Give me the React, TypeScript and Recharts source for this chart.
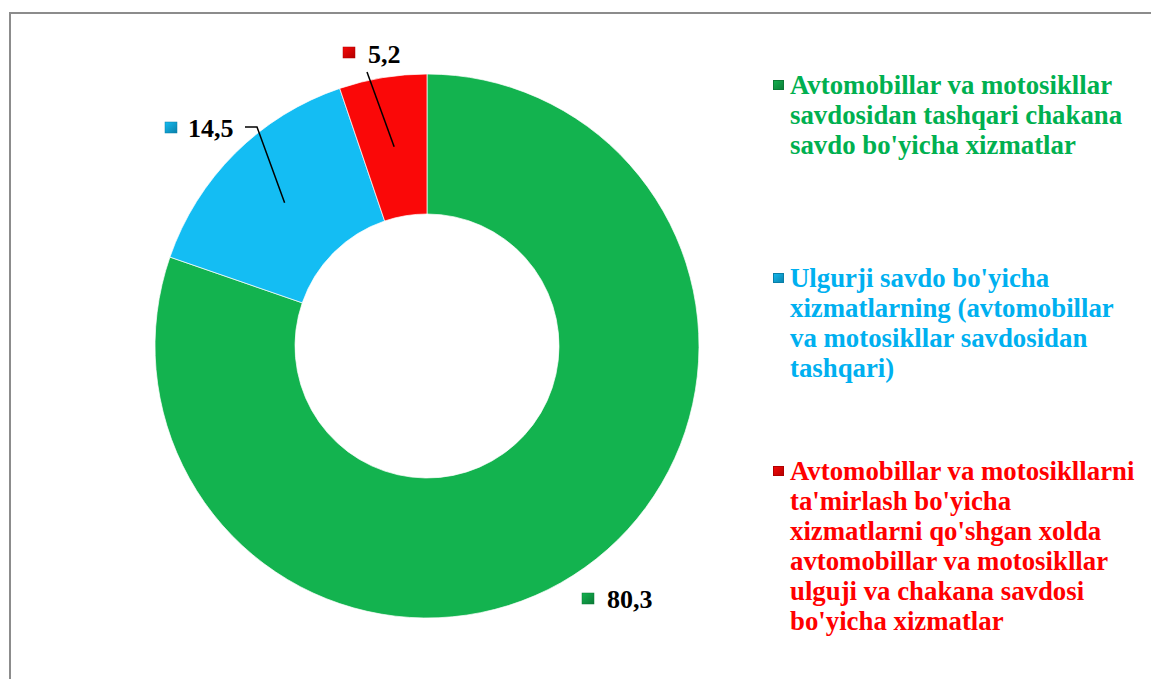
import React from 'react';
import { PieChart, Pie, Cell, Legend } from 'recharts';

const categories = [
  "Avtomobillar va motosikllar savdosidan tashqari chakana savdo bo'yicha xizmatlar",
  "Ulgurji savdo bo'yicha xizmatlarning (avtomobillar va motosikllar savdosidan tashqari)",
  "Avtomobillar va motosikllarni ta'mirlash bo'yicha xizmatlarni qo'shgan xolda avtomobillar va motosikllar ulguji va chakana savdosi bo'yicha xizmatlar",
];
const values = [80.3, 14.5, 5.2];

const sliceColors = ['#13B34F', '#14BDF3', '#FA0808'];
const textColors = ['#00B050', '#00B0F0', '#FF0000'];
const markerDark = ['#0B7A36', '#0A7FA8', '#B00000'];

const data = categories.map((name, i) => ({ name, value: values[i] }));

const FONT = '"Liberation Serif", "Times New Roman", serif';

// label layout offsets relative to pie centre (styling only)
const labelLayout = [
  { textDx: 180, textBy: 262, markDx: 161, markDy: 253, line: null as null | number[][] },
  { textDx: -239, textBy: -209, markDx: -256, markDy: -218, line: [[-170, -219], [-182, -219]] },
  { textDx: -59, textBy: -283, markDx: -78, markDy: -293, line: [[-60, -274]] },
];

const RAD = Math.PI / 180;

const renderLabel = (props: any) => {
  const { cx, cy, midAngle, innerRadius, outerRadius, index, value } = props;
  const L = labelLayout[index];
  const mr = (innerRadius + outerRadius) / 2;
  const sx = cx + mr * Math.cos(-midAngle * RAD);
  const sy = cy + mr * Math.sin(-midAngle * RAD);
  const text = Number(value).toFixed(1).replace('.', ',');
  let pts = '';
  if (L.line) {
    pts = [[sx, sy], ...L.line.map(([dx, dy]) => [cx + dx, cy + dy])].map((p) => p.join(',')).join(' ');
  }
  return (
    <g key={`lbl-${index}`}>
      {L.line && <polyline points={pts} fill="none" stroke="#000" strokeWidth={1.5} />}
      <rect
        x={cx + L.markDx - 6}
        y={cy + L.markDy - 6}
        width={12}
        height={11}
        fill={`url(#mk${index})`}
        stroke={markerDark[index]}
        strokeWidth={0.5}
      />
      <text
        x={cx + L.textDx}
        y={cy + L.textBy}
        fontFamily={FONT}
        fontWeight={700}
        fontSize={26}
        fill="#000"
        textAnchor="start"
      >
        {text}
      </text>
    </g>
  );
};

const renderLegend = (props: any) => {
  const payload = (props.payload || []) as any[];
  const ordered = categories.map((c) => payload.find((p) => p.value === c) || { value: c });
  return (
    <div style={{ fontFamily: FONT, fontWeight: 700, fontSize: 26.8, lineHeight: '30px' }}>
      {ordered.map((entry, i) => (
        <div key={i} style={{ position: 'relative', height: 193, paddingLeft: 20, width: 348 }}>
          <span
            style={{
              position: 'absolute',
              left: 3,
              top: 10,
              width: 11,
              height: 10,
              background: `linear-gradient(135deg, ${sliceColors[i]} 0%, ${markerDark[i]} 100%)`,
              boxShadow: `inset 0 0 0 1px ${markerDark[i]}`,
            }}
          />
          <span style={{ color: textColors[i] }}>{entry.value}</span>
        </div>
      ))}
    </div>
  );
};

export default function App() {
  return (
    <div style={{ position: 'absolute', left: 0, top: 0, width: 1151, height: 679, background: '#fff', overflow: 'hidden' }}>
      <div
        style={{
          position: 'absolute',
          left: 9,
          top: 12,
          width: 1200,
          height: 700,
          borderLeft: '2px solid #8c8c8c',
          borderTop: '2px solid #8c8c8c',
        }}
      />
      <div style={{ position: 'absolute', left: 0, top: 0 }}>
        <PieChart width={1151} height={679} margin={{ top: 0, right: 0, bottom: 0, left: 0 }}>
          <defs>
            {sliceColors.map((c, i) => (
              <linearGradient key={i} id={`mk${i}`} x1="0" y1="0" x2="1" y2="1">
                <stop offset="0%" stopColor={c} />
                <stop offset="100%" stopColor={markerDark[i]} />
              </linearGradient>
            ))}
          </defs>
          <Pie
            data={data}
            dataKey="value"
            nameKey="name"
            cx={427}
            cy={346}
            innerRadius={132}
            outerRadius={272}
            startAngle={90}
            endAngle={-270}
            stroke="rgba(255,255,255,0.7)"
            strokeWidth={1}
            label={renderLabel}
            labelLine={false}
            isAnimationActive={false}
          >
            {data.map((d, i) => (
              <Cell key={i} fill={sliceColors[i]} />
            ))}
          </Pie>
          <Legend
            content={renderLegend}
            layout="vertical"
            align="right"
            verticalAlign="top"
            wrapperStyle={{ position: 'absolute', left: 770, top: 70, width: 375, right: 'auto', bottom: 'auto' }}
          />
        </PieChart>
      </div>
    </div>
  );
}
